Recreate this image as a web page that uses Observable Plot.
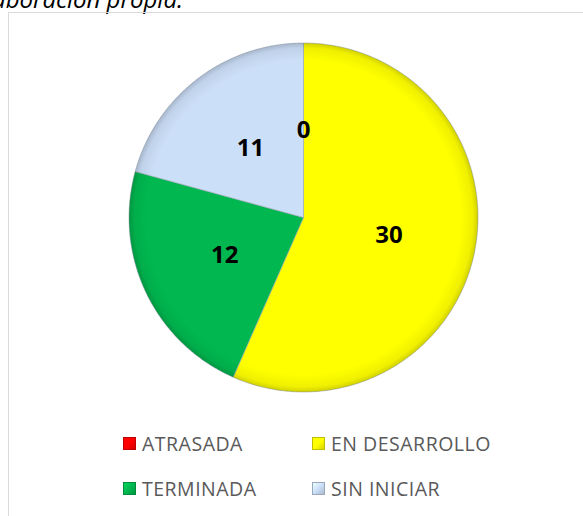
<!DOCTYPE html>
<html>
<head>
<meta charset="utf-8">
<script src="https://cdn.jsdelivr.net/npm/d3@7"></script>
<script src="https://cdn.jsdelivr.net/npm/@observablehq/plot@0.6"></script>
<style>
  html, body { margin: 0; padding: 0; background: #fff; }
  #wrap { position: relative; width: 583px; height: 516px; overflow: hidden; }
  #frame { position: absolute; left: 8px; top: 12px; width: 600px; height: 540px; border: 1.5px solid #d9d9d9; box-sizing: border-box; }
  #title { position: absolute; right: 400px; top: -13px; white-space: nowrap; font-family: "Open Sans", sans-serif; font-style: italic; font-size: 24px; line-height: 24px; color: #000; }
  #chart { position: absolute; left: 0; top: 0; }
  #legend { position: absolute; left: 0; top: 0; font-family: "Open Sans", sans-serif; font-size: 19.5px; letter-spacing: 0.5px; color: #595959; }
  .item { position: absolute; display: flex; align-items: center; white-space: nowrap; }
  .sw { width: 13px; height: 13px; margin-right: 6px; box-sizing: border-box; }
</style>
</head>
<body>
<div id="wrap">
  <div id="title">Fuente: Elaboración propia.</div>
  <div id="frame"></div>
  <div id="chart"></div>
  <div id="legend"></div>
</div>
<script>
const categories = ["ATRASADA", "EN DESARROLLO", "TERMINADA", "SIN INICIAR"];
const values = [0, 30, 12, 11];
const colors = ["#FF0000", "#FFFF00", "#00B84F", "#CCDFF8"];
const legendOrder = ["ATRASADA", "EN DESARROLLO", "TERMINADA", "SIN INICIAR"];

const arcs = d3.pie().sort(null).startAngle(0).endAngle(2 * Math.PI)(values);
const pts = [];
const labels = [];
arcs.forEach((a, i) => {
  const cat = categories[i];
  pts.push({cat, x: 0, y: 0});
  const n = Math.max(1, Math.ceil((a.endAngle - a.startAngle) / 0.01));
  for (let k = 0; k <= n; k++) {
    const t = a.startAngle + (a.endAngle - a.startAngle) * k / n;
    pts.push({cat, x: Math.sin(t), y: Math.cos(t)});
  }
  pts.push({cat, x: 0, y: 0});
  const m = (a.startAngle + a.endAngle) / 2;
  labels.push({cat, v: values[i], x: 0.5 * Math.sin(m), y: 0.5 * Math.cos(m)});
});

const cx = 303, cy = 217, r = 174.5;
const chart = Plot.plot({
  width: 583,
  height: 516,
  margin: 0,
  x: {domain: [-1, 1], range: [cx - r, cx + r], axis: null},
  y: {domain: [-1, 1], range: [cy + r, cy - r], axis: null},
  color: {domain: categories, range: colors},
  style: {background: "transparent", overflow: "visible"},
  marks: [
    Plot.line(pts, {x: "x", y: "y", z: "cat", fill: "cat", stroke: "#9aa5b4", strokeWidth: 0.8, strokeOpacity: 0.7, curve: "linear-closed"}),
    Plot.line(pts, {x: "x", y: "y", z: "cat", fill: "url(#rim)", stroke: "none", curve: "linear-closed"}),
    Plot.text(labels, {x: "x", y: "y", text: d => String(d.v), fontSize: 24, fontWeight: "bold", fill: "#000", fontFamily: "Open Sans, sans-serif"})
  ]
});
// radial shading gradient (style only)
const sx = chart.scale("x"), sy = chart.scale("y");
const ns = "http://www.w3.org/2000/svg";
const defs = document.createElementNS(ns, "defs");
const rg = document.createElementNS(ns, "radialGradient");
rg.setAttribute("id", "rim");
rg.setAttribute("gradientUnits", "userSpaceOnUse");
rg.setAttribute("cx", sx.apply(0));
rg.setAttribute("cy", sy.apply(0));
rg.setAttribute("r", sx.apply(1) - sx.apply(0));
[[0, 0], [0.9, 0], [0.97, 0.06], [1, 0.18]].forEach(([o, a]) => {
  const s = document.createElementNS(ns, "stop");
  s.setAttribute("offset", o);
  s.setAttribute("stop-color", "#000");
  s.setAttribute("stop-opacity", a);
  rg.appendChild(s);
});
defs.appendChild(rg);
chart.insertBefore(defs, chart.firstChild);
document.getElementById("chart").appendChild(chart);

const legend = document.getElementById("legend");
const pos = [[123, 443], [312, 443], [123, 488], [312, 488]];
legendOrder.forEach((c, i) => {
  const it = document.createElement("div");
  it.className = "item";
  it.style.left = pos[i][0] + "px";
  it.style.top = (pos[i][1] - 13) + "px";
  it.style.height = "26px";
  const col = colors[categories.indexOf(c)];
  const sw = document.createElement("div");
  sw.className = "sw";
  sw.style.background = `linear-gradient(135deg, ${d3.color(col).brighter(0.4)}, ${col} 50%, ${d3.color(col).darker(0.5)})`;
  sw.style.border = "1px solid " + d3.color(col).darker(0.8);
  const tx = document.createElement("span");
  tx.textContent = c;
  it.appendChild(sw);
  it.appendChild(tx);
  legend.appendChild(it);
});
</script>
</body>
</html>
